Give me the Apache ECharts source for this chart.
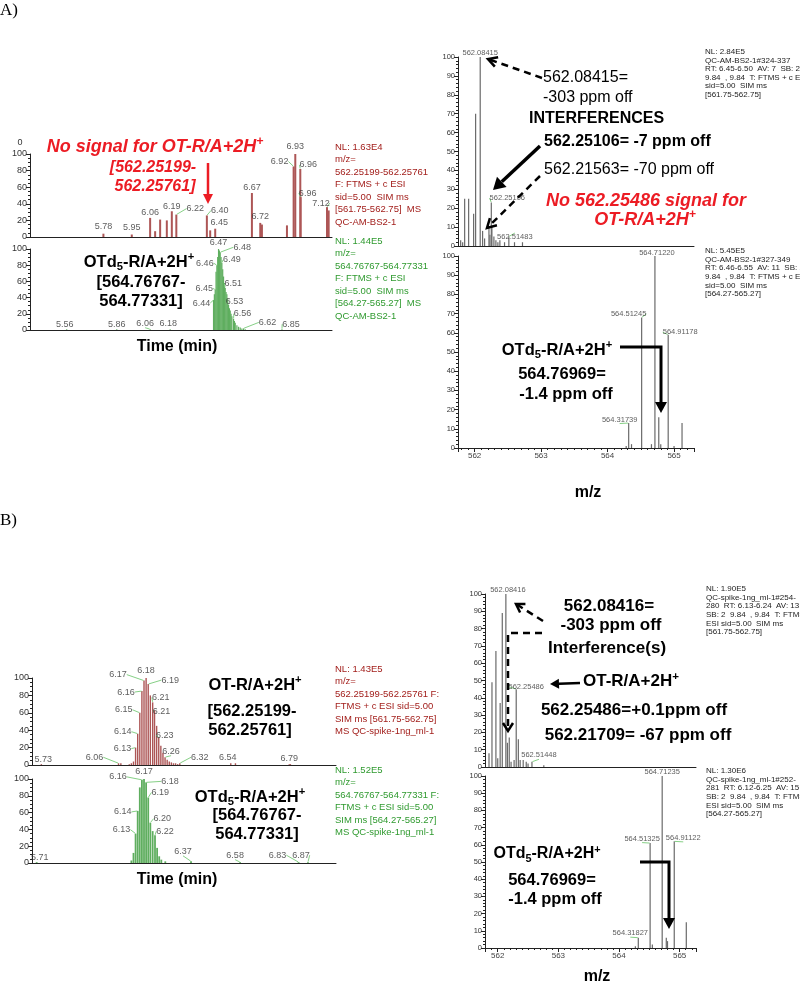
<!DOCTYPE html>
<html>
<head>
<meta charset="utf-8">
<script src="https://cdn.jsdelivr.net/npm/echarts@6/dist/echarts.min.js"></script>
<style>
  html, body { margin: 0; background: #fff; }
  #main { width: 800px; height: 984px; }
</style>
</head>
<body>
<div id="main"></div>
<script>
// ---------- data ----------
// A) chromatograms, time (min) vs relative abundance
const aRedTime = [5.78, 5.95, 6.06, 6.09, 6.12, 6.16, 6.19, 6.217, 6.40, 6.42, 6.45, 6.67, 6.72, 6.73, 6.88, 6.92, 6.93, 6.96, 6.962, 7.12, 7.13]
const aRedInt = [4, 3, 23, 7, 21, 20, 31, 27, 26, 8, 10, 53, 17, 15, 14, 85, 100, 82, 48, 36, 32]
const aRedPeaks = [5.78, 5.95, 6.06, 6.19, 6.217, 6.40, 6.45, 6.67, 6.72, 6.92, 6.93, 6.96, 6.962, 7.12]

const aGreenTime = [5.56, 5.86, 6.06, 6.18, 6.44, 6.445, 6.45, 6.455, 6.46, 6.465, 6.47, 6.475, 6.48, 6.485,
  6.49, 6.495, 6.50, 6.505, 6.51, 6.515, 6.52, 6.525, 6.53, 6.535, 6.54, 6.545, 6.55, 6.56, 6.565, 6.57,
  6.58, 6.59, 6.60, 6.61, 6.62, 6.63, 6.85]
const aGreenInt = [1, 1, 1, 1, 37, 44, 50, 72, 80, 90, 100, 98, 96, 90,
  83, 75, 66, 58, 52, 47, 44, 38, 31, 27, 24, 20, 17, 14, 11, 9,
  6, 4, 3, 2, 2, 1, 1]
const aGreenPeaks = [6.47, 6.48, 6.49, 6.46, 6.45, 6.51, 6.44, 6.53, 6.56, 6.62, 6.85, 5.56, 5.86, 6.06, 6.18]

// A) mass spectra, m/z vs relative abundance
const aTopMz = [561.79, 561.82, 561.85, 561.91, 561.985, 562.015, 562.08415, 562.12, 562.15, 562.21563, 562.23,
  562.25106, 562.26, 562.29, 562.32, 562.35, 562.38, 562.45, 562.51483, 562.6, 562.72]
const aTopInt = [3, 2, 25, 25, 17, 70, 100, 8, 4, 10, 6, 23, 10, 5, 3, 2, 3, 2, 5, 2, 2]
const aTopPeaks = [562.08415, 562.25106, 562.51483]

const aBotMz = [564.28, 564.31739, 564.36, 564.51245, 564.66, 564.71220, 564.77, 564.80, 564.91178, 565.0, 565.12]
const aBotInt = [1, 13, 2, 68, 2, 100, 16, 2, 59, 1, 13]
const aBotPeaks = [564.71220, 564.51245, 564.91178, 564.31739]

// B) chromatograms
const bRedTime = [5.73, 6.06, 6.07, 6.106, 6.115, 6.124, 6.133, 6.142, 6.151, 6.160, 6.169, 6.178, 6.187, 6.196,
  6.206, 6.214, 6.223, 6.232, 6.241, 6.250, 6.259, 6.268, 6.277, 6.286, 6.295, 6.304, 6.313, 6.322,
  6.54, 6.56, 6.79, 6.795]
const bRedInt = [1, 2, 2, 1, 2, 4, 20, 36, 60, 85, 97, 100, 93, 80,
  72, 63, 45, 32, 22, 14, 9, 6, 4, 3, 2, 2, 1, 2,
  2, 2, 1, 1]
const bRedPeaks = [6.178, 6.169, 6.187, 6.160, 6.206, 6.214, 6.151, 6.142, 6.232, 6.133, 6.259, 6.06, 5.73, 6.322, 6.54, 6.79]

const bGreenTime = [5.71, 6.115, 6.124, 6.133, 6.142, 6.151, 6.160, 6.169, 6.178, 6.187, 6.196, 6.206, 6.216,
  6.225, 6.234, 6.243, 6.26, 6.37, 6.58, 6.83, 6.87]
const bGreenInt = [1, 3, 12, 35, 62, 90, 99, 100, 96, 78, 48, 38, 33, 18, 8, 4, 2, 2, 1, 1, 1]
const bGreenPeaks = [6.169, 6.160, 6.178, 6.187, 6.142, 6.196, 6.133, 6.216, 6.37, 6.58, 6.83, 6.87, 5.71]

// B) mass spectra
const bTopMz = [561.806, 561.855, 561.92, 561.95, 561.99, 562.025, 562.08416, 562.11, 562.14, 562.17, 562.22,
  562.25486, 562.29, 562.32, 562.37, 562.42, 562.45, 562.51448, 562.71]
const bTopInt = [8, 49, 67, 5, 37, 89, 100, 14, 17, 3, 4, 45, 16, 4, 4, 3, 2, 3, 1]
const bTopPeaks = [562.08416, 562.25486, 562.51448]

const bBotMz = [564.27, 564.31827, 564.51325, 564.55, 564.71235, 564.78, 564.80, 564.91122, 565.11]
const bBotInt = [1, 6, 61, 2, 100, 6, 4, 62, 15]
const bBotPeaks = [564.71235, 564.51325, 564.91122, 564.31827]

const mzTicks = [562, 563, 564, 565]

// instrument header texts
const infoARed = ['NL: 1.63E4', 'm/z=', '562.25199-562.25761', 'F: FTMS + c ESI', 'sid=5.00  SIM ms', '[561.75-562.75]  MS', 'QC-AM-BS2-1']
const infoAGreen = ['NL: 1.44E5', 'm/z=', '564.76767-564.77331', 'F: FTMS + c ESI', 'sid=5.00  SIM ms', '[564.27-565.27]  MS', 'QC-AM-BS2-1']
const infoATop = ['NL: 2.84E5', 'QC-AM-BS2-1#324-337', 'RT: 6.45-6.50  AV: 7  SB: 2', '9.84  , 9.84  T: FTMS + c ESI', 'sid=5.00  SIM ms', '[561.75-562.75]']
const infoABot = ['NL: 5.45E5', 'QC-AM-BS2-1#327-349', 'RT: 6.46-6.55  AV: 11  SB: 2', '9.84  , 9.84  T: FTMS + c ESI', 'sid=5.00  SIM ms', '[564.27-565.27]']
const infoBRed = ['NL: 1.43E5', 'm/z=', '562.25199-562.25761 F:', 'FTMS + c ESI sid=5.00', 'SIM ms [561.75-562.75]', 'MS QC-spike-1ng_ml-1']
const infoBGreen = ['NL: 1.52E5', 'm/z=', '564.76767-564.77331 F:', 'FTMS + c ESI sid=5.00', 'SIM ms [564.27-565.27]', 'MS QC-spike-1ng_ml-1']
const infoBTop = ['NL: 1.90E5', 'QC-spike-1ng_ml-1#254-', '280  RT: 6.13-6.24  AV: 13', 'SB: 2  9.84  , 9.84  T: FTMS + c', 'ESI sid=5.00  SIM ms', '[561.75-562.75]']
const infoBBot = ['NL: 1.30E6', 'QC-spike-1ng_ml-1#252-', '281  RT: 6.12-6.25  AV: 15', 'SB: 2  9.84  , 9.84  T: FTMS + c', 'ESI sid=5.00  SIM ms', '[564.27-565.27]']

// ---------- label nudges (pixels), one per labelled peak ----------
const shiftARed = [[0,0],[0,0],[0,2],[0,2],[19,1],[13,2],[4,1],[0,2],[0,1],[-14,2],[0,0],[8,3],[7,3],[-6,3]]
const shiftAGreen = [[0,1],[22,2],[10,4],[-12,5],[-11,6],[8,3],[-12,10],[6,4],[9,2],[24,1],[9,2],[-2,2],[0,2],[-5,1],[-2,1]]
const shiftATop = [[0,2],[16,2],[6,7]]
const shiftABot = [[2,3],[-13,3],[12,4],[-9,3]]
const shiftBRed = [[0,0],[-26,1],[22,3],[-16,8],[8,2],[7,8],[-16,4],[-15,5],[6,5],[-13,8],[6,1],[-24,1],[2,2],[20,1],[-3,1],[0,1]]
const shiftBGreen = [[0,0],[-24,4],[24,6],[12,2],[-15,8],[12,3],[-14,3],[10,3],[-8,-3],[-5,0],[-21,0],[-7,0],[3,2]]
const shiftBTop = [[2,2],[10,4],[7,0]]
const shiftBBot = [[0,2],[-8,2],[9,3],[-8,2]]

const FONT = "'Liberation Sans', Arial, sans-serif"
const SERIF = "'Liberation Serif', 'Times New Roman', serif"
const RED = '#ad5656'
const GREEN = '#5fae5f'
const STICK = '#6a6a6a'
const AXIS = '#222'

const chart = echarts.init(document.getElementById('main'))

function pairs(xs, ys) {
    return xs.map((x, i) => [x, ys[i]])
}

function chromX(g, min, max) {
    return {
        type: 'value', gridIndex: g, min: min, max: max,
        axisLine: { lineStyle: { color: AXIS } },
        axisTick: { show: false }, axisLabel: { show: false }, splitLine: { show: false }
    }
}

function specX(g, min, max, labels) {
    return {
        type: 'value', gridIndex: g, min: min, max: max, splitNumber: 4,
        axisLine: { lineStyle: { color: AXIS } },
        axisTick: { show: labels, length: 4, lineStyle: { color: AXIS } },
        minorTick: { show: labels, splitNumber: 10, length: 2, lineStyle: { color: AXIS } },
        axisLabel: {
            show: labels, fontSize: 8, color: '#444', margin: 4, fontFamily: FONT,
            customValues: mzTicks
        },
        splitLine: { show: false }
    }
}

function yAxis(g, step, minor, size) {
    return {
        type: 'value', gridIndex: g, min: 0, max: 100, interval: step,
        axisLine: { show: true, lineStyle: { color: AXIS } },
        axisTick: { show: true, length: 4, lineStyle: { color: AXIS } },
        minorTick: { show: true, splitNumber: minor, length: 2, lineStyle: { color: AXIS } },
        axisLabel: { fontSize: size, color: '#333', margin: 3, fontFamily: FONT },
        splitLine: { show: false }
    }
}

function bars(g, xs, ys, color, width) {
    return {
        type: 'bar', xAxisIndex: g, yAxisIndex: g, data: pairs(xs, ys),
        barWidth: width, itemStyle: { color: color }, silent: true, z: 2
    }
}

function peakLabels(g, xs, ys, peaks, shifts, digits, size) {
    return {
        type: 'scatter', xAxisIndex: g, yAxisIndex: g, silent: true, z: 3,
        symbolSize: 1, itemStyle: { color: 'rgba(0,0,0,0)' },
        data: peaks.map((p, k) => ({
            value: [p, ys[xs.indexOf(p)]],
            labelLine: { show: Math.abs(shifts[k][0]) > 4 }
        })),
        label: {
            show: true, position: 'top', distance: 2, fontSize: size, color: '#333', fontFamily: FONT,
            formatter: (p) => p.value[0].toFixed(digits)
        },
        labelLayout: (p) => ({ dx: shifts[p.dataIndex][0], dy: shifts[p.dataIndex][1] }),
        labelLine: { show: true, lineStyle: { color: '#86d086', width: 1 } }
    }
}

// ---------- annotation helpers ----------
function txt(x, y, text, o) {
    o = o || {}
    const font = (o.italic ? 'italic ' : '') + (o.bold ? 'bold ' : '') + (o.size || 16) + 'px ' + (o.family || FONT)
    return {
        type: 'text', x: x, y: y, z: 100, silent: true,
        style: {
            text: text, fill: o.color || '#000', font: font,
            textAlign: o.align || 'center', textVerticalAlign: 'middle',
            align: o.align || 'center', verticalAlign: 'middle'
        }
    }
}

// text with sub/superscripts: {m|main}{s|sub}{p|sup}
function rich(x, y, text, o) {
    const base = { fontFamily: FONT, fontSize: o.size, fontWeight: 'bold', fontStyle: o.italic ? 'italic' : 'normal', fill: o.color || '#000', lineHeight: o.size + 4 }
    const small = Object.assign({}, base, { fontSize: o.size * 0.68, lineHeight: o.size * 0.7 })
    return {
        type: 'text', x: x, y: y, z: 100, silent: true,
        style: {
            text: text, textAlign: 'center', textVerticalAlign: 'middle', align: 'center', verticalAlign: 'middle',
            rich: {
                m: base,
                s: Object.assign({}, small, { verticalAlign: 'bottom' }),
                p: Object.assign({}, small, { verticalAlign: 'top' })
            }
        }
    }
}

function arrow(pts, o) {
    const color = o.color || '#000'
    const n = pts.length
    const [x1, y1] = pts[n - 2]
    const [x2, y2] = pts[n - 1]
    const a = Math.atan2(y2 - y1, x2 - x1)
    const L = o.head || 10, W = o.headW || 5
    const bx = x2 - L * Math.cos(a), by = y2 - L * Math.sin(a)
    const px = -Math.sin(a), py = Math.cos(a)
    const line = pts.slice(0, n - 1).concat([o.open ? [x2 - 2 * Math.cos(a), y2 - 2 * Math.sin(a)] : [bx, by]])
    const out = [{
        type: 'polyline', z: 100, silent: true, shape: { points: line },
        style: { stroke: color, lineWidth: o.width || 2, lineDash: o.dash || null, fill: null }
    }]
    const head = [[bx + px * W, by + py * W], [x2, y2], [bx - px * W, by - py * W]]
    if (o.open) {
        out.push({ type: 'polyline', z: 100, silent: true, shape: { points: head }, style: { stroke: color, lineWidth: o.width || 2, fill: null } })
    } else {
        out.push({ type: 'polygon', z: 100, silent: true, shape: { points: head }, style: { fill: color } })
    }
    return out
}

function info(x, y0, step, lines, size, color) {
    return lines.map((t, i) => txt(x, y0 + i * step, t, { size: size, color: color, align: 'left' }))
}

const BRED = '#ec1c24'
const DRED = '#a3201d'
const DGREEN = '#2f9a2f'

let ann = []
ann.push(txt(0, 11, 'A)', { size: 17, family: SERIF, align: 'left' }))
ann.push(txt(0, 521, 'B)', { size: 17, family: SERIF, align: 'left' }))
ann.push(txt(20, 143, '0', { size: 9, color: '#333' }))

// A left
ann.push(rich(155, 147, '{m|No signal for OT-R/A+2H}{p|+}', { size: 18, italic: true, color: BRED }))
ann.push(txt(153, 168, '[562.25199-', { size: 16, bold: true, italic: true, color: BRED }))
ann.push(txt(155, 187, '562.25761]', { size: 16, bold: true, italic: true, color: BRED }))
ann = ann.concat(arrow([[208, 163], [208, 204]], { color: BRED, width: 2.5, head: 10, headW: 5 }))
ann.push(rich(139, 262, '{m|OTd}{s|5}{m|-R/A+2H}{p|+}', { size: 16.5 }))
ann.push(txt(141, 282, '[564.76767-', { size: 16.5, bold: true }))
ann.push(txt(141, 301, '564.77331]', { size: 16.5, bold: true }))
ann.push(txt(177, 347, 'Time (min)', { size: 16, bold: true }))
ann = ann.concat(info(335, 147, 12.5, infoARed, 9.5, DRED))
ann = ann.concat(info(335, 241, 12.5, infoAGreen, 9.5, DGREEN))

// A right
ann = ann.concat(info(705, 52, 8.5, infoATop, 8, '#222'))
ann = ann.concat(info(705, 251, 8.6, infoABot, 8, '#222'))
ann.push(txt(543, 78, '562.08415=', { size: 16, align: 'left' }))
ann.push(txt(543, 98, '-303 ppm off', { size: 16, align: 'left' }))
ann.push(txt(529, 119, 'INTERFERENCES', { size: 16, bold: true, align: 'left' }))
ann.push(txt(544, 142, '562.25106= -7 ppm off', { size: 16, bold: true, align: 'left' }))
ann.push(txt(544, 170, '562.21563= -70 ppm off', { size: 16, align: 'left' }))
ann.push(txt(646, 201, 'No 562.25486 signal for', { size: 18, bold: true, italic: true, color: BRED }))
ann.push(rich(645, 220, '{m|OT-R/A+2H}{p|+}', { size: 18, italic: true, color: BRED }))
ann = ann.concat(arrow([[542, 78], [488, 59]], { width: 2.5, dash: [7, 5], open: true, head: 9, headW: 5 }))
ann = ann.concat(arrow([[540, 146], [493, 190]], { width: 3.5, head: 12, headW: 7 }))
ann = ann.concat(arrow([[540, 176], [487, 228]], { width: 2.5, dash: [7, 5], open: true, head: 9, headW: 5 }))
ann.push(rich(557, 350, '{m|OTd}{s|5}{m|-R/A+2H}{p|+}', { size: 16.5 }))
ann.push(txt(562, 374, '564.76969=', { size: 16.5, bold: true }))
ann.push(txt(566, 394, '-1.4 ppm off', { size: 16.5, bold: true }))
ann = ann.concat(arrow([[620, 347], [661, 347], [661, 413]], { width: 3, head: 11, headW: 6 }))
ann.push(txt(588, 493, 'm/z', { size: 16, bold: true }))

// B left
ann.push(rich(255, 685, '{m|OT-R/A+2H}{p|+}', { size: 16.5 }))
ann.push(txt(252, 711, '[562.25199-', { size: 16.5, bold: true }))
ann.push(txt(250, 730, '562.25761]', { size: 16.5, bold: true }))
ann.push(rich(250, 797, '{m|OTd}{s|5}{m|-R/A+2H}{p|+}', { size: 16.5 }))
ann.push(txt(257, 815, '[564.76767-', { size: 16.5, bold: true }))
ann.push(txt(257, 834, '564.77331]', { size: 16.5, bold: true }))
ann.push(txt(177, 880, 'Time (min)', { size: 16, bold: true }))
ann = ann.concat(info(335, 669, 12.5, infoBRed, 9.5, DRED))
ann = ann.concat(info(335, 770, 12.5, infoBGreen, 9.5, DGREEN))

// B right
ann = ann.concat(info(706, 589, 8.6, infoBTop, 8, '#222'))
ann = ann.concat(info(706, 771, 8.6, infoBBot, 8, '#222'))
ann.push(txt(609, 606, '562.08416=', { size: 17, bold: true }))
ann.push(txt(611, 625, '-303 ppm off', { size: 17, bold: true }))
ann.push(txt(607, 648, 'Interference(s)', { size: 17, bold: true }))
ann.push(rich(631, 681, '{m|OT-R/A+2H}{p|+}', { size: 17 }))
ann.push(txt(634, 710, '562.25486=+0.1ppm off', { size: 17, bold: true }))
ann.push(txt(638, 735, '562.21709= -67 ppm off', { size: 17, bold: true }))
ann = ann.concat(arrow([[580, 683], [550, 684]], { width: 2.5, head: 9, headW: 5 }))
ann = ann.concat(arrow([[543, 621], [516, 604]], { width: 2.5, dash: [7, 5], open: true, head: 8, headW: 5 }))
ann = ann.concat(arrow([[542, 633], [508, 633], [508, 731]], { width: 2.5, dash: [7, 5], open: true, head: 8, headW: 5 }))
ann.push(rich(547, 854, '{m|OTd}{s|5}{m|-R/A+2H}{p|+}', { size: 16 }))
ann.push(txt(552, 880, '564.76969=', { size: 16.5, bold: true }))
ann.push(txt(555, 899, '-1.4 ppm off', { size: 16.5, bold: true }))
ann = ann.concat(arrow([[640, 862], [669, 862], [669, 929]], { width: 3, head: 11, headW: 6 }))
ann.push(txt(597, 977, 'm/z', { size: 16, bold: true }))

const option = {
    animation: false,
    backgroundColor: '#fff',
    textStyle: { fontFamily: FONT },
    grid: [
        { left: 30, top: 154, width: 302, height: 83 },
        { left: 30, top: 249, width: 302, height: 81 },
        { left: 458, top: 57, width: 236, height: 189 },
        { left: 458, top: 256, width: 236, height: 192 },
        { left: 32, top: 678, width: 304, height: 87 },
        { left: 32, top: 779, width: 304, height: 84 },
        { left: 485, top: 594, width: 211, height: 173 },
        { left: 485, top: 776, width: 211, height: 172 }
    ],
    xAxis: [
        chromX(0, 5.34, 7.15),
        chromX(1, 5.34, 7.15),
        specX(2, 561.75, 565.3, false),
        specX(3, 561.75, 565.3, true),
        chromX(4, 5.69, 6.99),
        chromX(5, 5.69, 6.99),
        specX(6, 561.74, 565.22, false),
        specX(7, 561.79, 565.27, true)
    ],
    yAxis: [
        yAxis(0, 20, 4, 9), yAxis(1, 20, 4, 9),
        yAxis(2, 10, 5, 7.5), yAxis(3, 10, 5, 7.5),
        yAxis(4, 20, 4, 9), yAxis(5, 20, 4, 9),
        yAxis(6, 10, 5, 7.5), yAxis(7, 10, 5, 7.5)
    ],
    series: [
        bars(0, aRedTime, aRedInt, RED, 2),
        peakLabels(0, aRedTime, aRedInt, aRedPeaks, shiftARed, 2, 9),
        bars(1, aGreenTime, aGreenInt, GREEN, 1.2),
        peakLabels(1, aGreenTime, aGreenInt, aGreenPeaks, shiftAGreen, 2, 9),
        bars(2, aTopMz, aTopInt, STICK, 1.2),
        peakLabels(2, aTopMz, aTopInt, aTopPeaks, shiftATop, 5, 7.5),
        bars(3, aBotMz, aBotInt, STICK, 1.2),
        peakLabels(3, aBotMz, aBotInt, aBotPeaks, shiftABot, 5, 7.5),
        bars(4, bRedTime, bRedInt, RED, 1.4),
        peakLabels(4, bRedTime, bRedInt, bRedPeaks, shiftBRed, 2, 9),
        bars(5, bGreenTime, bGreenInt, GREEN, 1.8),
        peakLabels(5, bGreenTime, bGreenInt, bGreenPeaks, shiftBGreen, 2, 9),
        bars(6, bTopMz, bTopInt, STICK, 1.2),
        peakLabels(6, bTopMz, bTopInt, bTopPeaks, shiftBTop, 5, 7.5),
        bars(7, bBotMz, bBotInt, STICK, 1.2),
        peakLabels(7, bBotMz, bBotInt, bBotPeaks, shiftBBot, 5, 7.5)
    ],
    graphic: { elements: ann }
}

chart.setOption(option)
</script>
</body>
</html>
